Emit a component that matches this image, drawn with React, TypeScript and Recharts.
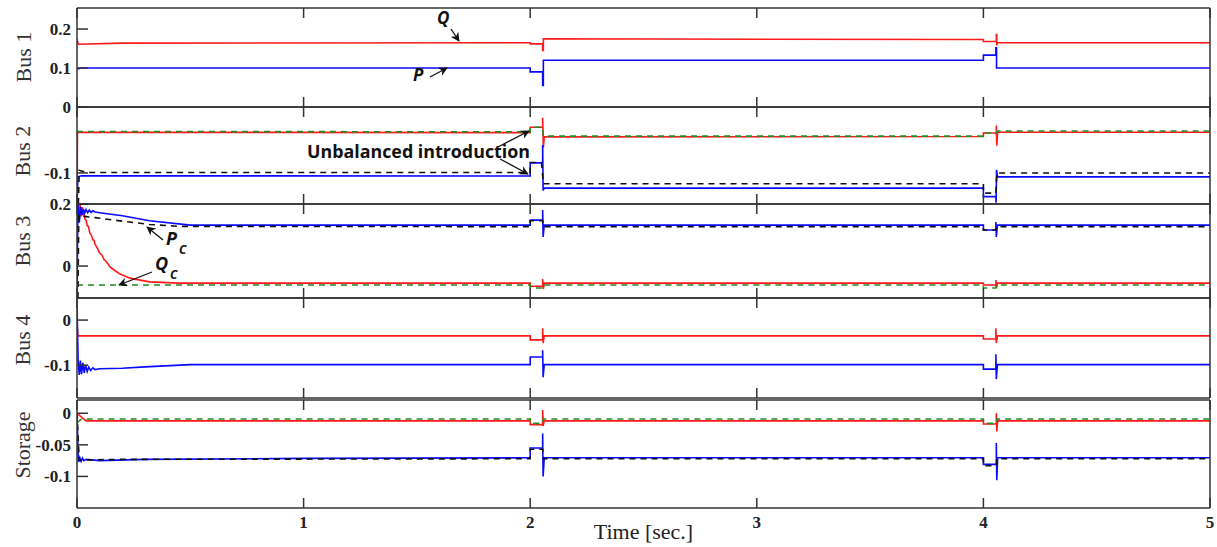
import React from 'react';
import { LineChart, Line, XAxis, YAxis } from 'recharts';

type Pt = [number, number];

const timeTicks = [0, 1, 2, 3, 4, 5];

// Bus 1
const bus1Q: Pt[] = [[0, 0.175], [0.005, 0.161], [0.2, 0.164], [2, 0.165], [2, 0.162], [2.055, 0.162], [2.055, 0.145], [2.058, 0.145], [2.058, 0.175], [4, 0.173], [4, 0.168], [4.057, 0.168], [4.057, 0.186], [4.059, 0.186], [4.059, 0.158], [4.062, 0.165], [5, 0.165]];
const bus1P: Pt[] = [[0, 0.1], [0.004, 0.098], [0.02, 0.1], [2, 0.1], [2, 0.09], [2.055, 0.09], [2.055, 0.055], [2.058, 0.055], [2.058, 0.12], [4, 0.12], [4, 0.133], [4.055, 0.133], [4.055, 0.152], [4.058, 0.152], [4.058, 0.1], [5, 0.1]];

// Bus 2
const bus2Q: Pt[] = [[0, -0.18], [0.002, 0.005], [2, 0.004], [2, 0.018], [2.055, 0.018], [2.055, 0.042], [2.058, -0.035], [2.062, -0.007], [4, -0.006], [4, 0.003], [4.057, 0.003], [4.057, 0.022], [4.059, -0.03], [4.063, 0.005], [5, 0.005]];
const bus2Qc: Pt[] = [[0, 0.007], [2, 0.006], [2, 0.018], [2.055, 0.018], [2.058, -0.005], [4, -0.005], [4, 0.003], [4.057, 0.003], [4.06, 0.008], [5, 0.008]];
const bus2P: Pt[] = [[0, -0.18], [0.004, -0.11], [0.02, -0.107], [2, -0.108], [2, -0.074], [2.055, -0.074], [2.055, -0.028], [2.057, -0.145], [2.062, -0.139], [4, -0.139], [4, -0.161], [4.055, -0.161], [4.056, -0.177], [4.058, -0.092], [4.062, -0.11], [5, -0.11]];
const bus2Pc: Pt[] = [[0.006, -0.18], [0.01, -0.093], [0.025, -0.096], [0.06, -0.099], [2, -0.099], [2, -0.073], [2.05, -0.073], [2.058, -0.128], [4, -0.128], [4, -0.152], [4.055, -0.152], [4.06, -0.1], [5, -0.1]];

// Bus 3
const bus3P: Pt[] = [[0, -0.103], [0.004, 0.2], [0.01, 0.14], [0.016, 0.19], [0.022, 0.165], [0.028, 0.185], [0.034, 0.17], [0.04, 0.182], [0.047, 0.172], [0.054, 0.18], [0.062, 0.173], [0.07, 0.178], [0.08, 0.174], [0.1, 0.172], [0.2, 0.162], [0.32, 0.146], [0.5, 0.132], [2, 0.132], [2, 0.148], [2.055, 0.148], [2.055, 0.181], [2.057, 0.094], [2.062, 0.132], [4, 0.132], [4, 0.116], [4.055, 0.116], [4.055, 0.142], [4.057, 0.094], [4.062, 0.132], [5, 0.132]];
const bus3Pc: Pt[] = [[0.004, -0.103], [0.008, 0.165], [0.03, 0.16], [0.08, 0.156], [0.23, 0.142], [0.32, 0.134], [0.45, 0.128], [2, 0.127], [2, 0.146], [2.055, 0.146], [2.058, 0.127], [4, 0.127], [4, 0.116], [4.055, 0.116], [4.058, 0.127], [5, 0.127]];
const bus3Q: Pt[] = [[0, 0.2], [0.006, 0.2], [0.01, 0.15], [0.014, 0.2], [0.018, 0.16], [0.022, 0.19], [0.026, 0.163], [0.03, 0.175], [0.035, 0.152], [0.04, 0.148], [0.045, 0.13], [0.05, 0.128], [0.057, 0.106], [0.063, 0.1], [0.07, 0.085], [0.075, 0.083], [0.08, 0.07], [0.09, 0.058], [0.1, 0.042], [0.11, 0.036], [0.12, 0.02], [0.13, 0.014], [0.146, -0.003], [0.17, -0.016], [0.19, -0.026], [0.234, -0.039], [0.32, -0.051], [0.45, -0.055], [2, -0.055], [2, -0.065], [2.055, -0.065], [2.055, -0.042], [2.058, -0.074], [2.062, -0.055], [4, -0.055], [4, -0.061], [4.055, -0.061], [4.055, -0.045], [4.058, -0.071], [4.062, -0.055], [5, -0.055]];
const bus3Qc: Pt[] = [[0, -0.061], [2, -0.061], [2, -0.071], [2.055, -0.071], [2.058, -0.061], [4, -0.061], [4, -0.071], [4.055, -0.071], [4.058, -0.061], [5, -0.061]];

// Bus 4
const bus4Q: Pt[] = [[0, 0], [0.003, -0.035], [2, -0.035], [2, -0.044], [2.055, -0.044], [2.055, -0.018], [2.057, -0.051], [2.062, -0.035], [4, -0.035], [4, -0.042], [4.055, -0.042], [4.055, -0.018], [4.057, -0.051], [4.062, -0.035], [5, -0.035]];
const bus4P: Pt[] = [[0, 0.03], [0.005, -0.09], [0.01, -0.122], [0.015, -0.09], [0.02, -0.12], [0.026, -0.095], [0.032, -0.117], [0.038, -0.1], [0.045, -0.114], [0.052, -0.104], [0.06, -0.112], [0.07, -0.106], [0.08, -0.11], [0.1, -0.108], [0.2, -0.107], [0.3, -0.104], [0.5, -0.099], [2, -0.099], [2, -0.082], [2.055, -0.082], [2.055, -0.067], [2.057, -0.127], [2.062, -0.099], [4, -0.099], [4, -0.109], [4.055, -0.109], [4.055, -0.076], [4.057, -0.131], [4.062, -0.099], [5, -0.099]];

// Storage
const storQ: Pt[] = [[0, 0], [0.04, -0.012], [2, -0.012], [2, -0.018], [2.055, -0.018], [2.055, 0.005], [2.057, -0.02], [2.062, -0.012], [4, -0.012], [4, -0.017], [4.057, -0.017], [4.057, 0], [4.059, -0.029], [4.063, -0.012], [5, -0.012]];
const storQc: Pt[] = [[0, -0.015], [0.02, -0.009], [2, -0.009], [2, -0.016], [2.055, -0.016], [2.058, -0.009], [4, -0.009], [4, -0.016], [4.057, -0.016], [4.06, -0.009], [5, -0.009]];
const storP: Pt[] = [[0, 0], [0.006, -0.077], [0.012, -0.07], [0.018, -0.076], [0.024, -0.071], [0.03, -0.075], [0.04, -0.073], [0.1, -0.075], [0.3, -0.073], [1, -0.0715], [2, -0.0705], [2, -0.055], [2.055, -0.055], [2.055, -0.032], [2.057, -0.1], [2.062, -0.0705], [4, -0.0705], [4, -0.081], [4.057, -0.081], [4.057, -0.047], [4.059, -0.106], [4.063, -0.0705], [5, -0.0705]];
const storPc: Pt[] = [[0, 0], [0.01, -0.075], [0.03, -0.074], [0.2, -0.073], [2, -0.072], [2, -0.057], [2.055, -0.057], [2.058, -0.072], [4, -0.072], [4, -0.083], [4.057, -0.083], [4.06, -0.072], [5, -0.072]];

const RED = '#ff1a1a';
const BLUE = '#0a0aff';
const GREEN = '#1e8c1e';
const BLACK = '#111';
const AXIS = '#333';

const toRows = (pts: Pt[]) => pts.map(([t, v]) => ({ t, v }));

// bold serif tick labels (MATLAB/LaTeX look)
const SerifTick = (p: any) => (
  <text
    x={p.x}
    y={p.y}
    dy={p.textAnchor === 'middle' ? '0.71em' : '0.35em'}
    textAnchor={p.textAnchor}
    fill="#222"
    fontSize={17}
    fontWeight="bold"
    fontFamily="Liberation Serif"
  >
    {p.payload.value}
  </text>
);

// tick marks only, no label
const NoLabel = () => null;

interface SeriesDef {
  data: Pt[];
  color: string;
  dashed?: boolean;
}

interface PanelProps {
  top: number;
  height: number;
  domain: [number, number];
  ticks: number[];
  series: SeriesDef[];
  last?: boolean;
}

const Panel = ({ top, height, domain, ticks, series, last }: PanelProps) => {
  const xh = last ? 39 : 1;
  return (
    <div style={{ position: 'absolute', left: 0, top: top - 10 }}>
      <LineChart
        width={1217}
        height={height + 10 + (last ? xh : 10)}
        margin={{ top: 9, right: 6, bottom: last ? 0 : 9, left: 7 }}
      >
        <XAxis
          xAxisId="b"
          type="number"
          dataKey="t"
          domain={[0, 5]}
          ticks={timeTicks}
          allowDataOverflow
          height={xh}
          stroke={AXIS}
          strokeWidth={1.5}
          tickSize={-10}
          tickMargin={18}
          tick={last ? <SerifTick /> : <NoLabel />}
          label={last ? { value: 'Time [sec.]', position: 'insideBottom', offset: 8, fill: '#222', fontSize: 22, fontFamily: 'Liberation Serif' } : undefined}
        />
        <XAxis
          xAxisId="t"
          orientation="top"
          type="number"
          dataKey="t"
          domain={[0, 5]}
          ticks={timeTicks}
          allowDataOverflow
          height={1}
          stroke={AXIS}
          strokeWidth={1.5}
          tickSize={-10}
          tick={<NoLabel />}
        />
        <YAxis
          yAxisId="l"
          type="number"
          domain={domain}
          ticks={ticks}
          allowDataOverflow
          width={70}
          stroke={AXIS}
          strokeWidth={1.5}
          tickSize={-11}
          tickMargin={17}
          tick={<SerifTick />}
        />
        <YAxis
          yAxisId="r"
          orientation="right"
          type="number"
          domain={domain}
          allowDataOverflow
          width={1}
          stroke={AXIS}
          strokeWidth={1.5}
          tick={false}
          tickLine={false}
        />
        {series.map((s, i) => (
          <Line
            key={i}
            xAxisId="b"
            yAxisId="l"
            data={toRows(s.data)}
            dataKey="v"
            type="linear"
            stroke={s.color}
            strokeWidth={1.6}
            strokeDasharray={s.dashed ? '6 5' : undefined}
            dot={false}
            activeDot={false}
            isAnimationActive={false}
          />
        ))}
      </LineChart>
    </div>
  );
};

const annFont = { fontFamily: 'Open Sans', fontWeight: 'bold', fontStyle: 'italic', fill: '#111' } as const;

const App = () => (
  <div style={{ position: 'absolute', left: 0, top: 0, width: 1217, height: 547, background: '#fff', overflow: 'hidden' }}>
    <Panel top={8} height={99} domain={[0, 0.254]} ticks={[0, 0.1, 0.2]}
      series={[{ data: bus1Q, color: RED }, { data: bus1P, color: BLUE }]} />
    <Panel top={107} height={97} domain={[-0.18, 0.07]} ticks={[-0.1]}
      series={[{ data: bus2Q, color: RED }, { data: bus2P, color: BLUE }, { data: bus2Qc, color: GREEN, dashed: true }, { data: bus2Pc, color: BLACK, dashed: true }]} />
    <Panel top={204} height={94} domain={[-0.103, 0.2]} ticks={[0, 0.2]}
      series={[{ data: bus3Q, color: RED }, { data: bus3P, color: BLUE }, { data: bus3Qc, color: GREEN, dashed: true }, { data: bus3Pc, color: BLACK, dashed: true }]} />
    <Panel top={298} height={100} domain={[-0.173, 0.049]} ticks={[-0.1, 0]}
      series={[{ data: bus4Q, color: RED }, { data: bus4P, color: BLUE }]} />
    <Panel top={400} height={108} domain={[-0.15, 0.021]} ticks={[-0.1, -0.05, 0]} last
      series={[{ data: storQ, color: RED }, { data: storP, color: BLUE }, { data: storQc, color: GREEN, dashed: true }, { data: storPc, color: BLACK, dashed: true }]} />

    <svg width={1217} height={547} style={{ position: 'absolute', left: 0, top: 0, pointerEvents: 'none' }}>
      <defs>
        <marker id="ah" viewBox="0 0 10 10" refX="9" refY="5" markerWidth="9" markerHeight="9" markerUnits="userSpaceOnUse" orient="auto">
          <path d="M0,0 L10,5 L0,10 L3,5 z" fill="#111" />
        </marker>
      </defs>
      <g fontFamily="Liberation Serif" fontSize={22} fill="#333" textAnchor="middle">
        <text transform="translate(31,57) rotate(-90)">Bus 1</text>
        <text transform="translate(30,151) rotate(-90)">Bus 2</text>
        <text transform="translate(30,241) rotate(-90)">Bus 3</text>
        <text transform="translate(30,340) rotate(-90)">Bus 4</text>
        <text transform="translate(30,445) rotate(-90)">Storage</text>
      </g>
      <g stroke="#111" strokeWidth={1.3}>
        <line x1={451} y1={29} x2={459} y2={41} markerEnd="url(#ah)" />
        <line x1={430} y1={77} x2={447} y2={68} markerEnd="url(#ah)" />
        <line x1={498} y1={147} x2={529} y2={131} markerEnd="url(#ah)" />
        <line x1={500} y1={159} x2={528} y2={174} markerEnd="url(#ah)" />
        <line x1={163} y1={240} x2={147} y2={227} markerEnd="url(#ah)" />
        <line x1={152} y1={272} x2={119} y2={285} markerEnd="url(#ah)" />
      </g>
      <text x={437} y={24} fontSize={17} {...annFont}>Q</text>
      <text x={413} y={81} fontSize={17} {...annFont}>P</text>
      <text x={307} y={158} fontSize={18} fontFamily="Open Sans" fontWeight="bold" fill="#111" textLength={223} lengthAdjust="spacingAndGlyphs">Unbalanced introduction</text>
      <text x={166} y={245} fontSize={18} {...annFont}>P</text>
      <text x={179} y={254} fontSize={12} {...annFont}>C</text>
      <text x={155} y={270} fontSize={18} {...annFont}>Q</text>
      <text x={170} y={279} fontSize={12} {...annFont}>C</text>
    </svg>
  </div>
);

export default App;
